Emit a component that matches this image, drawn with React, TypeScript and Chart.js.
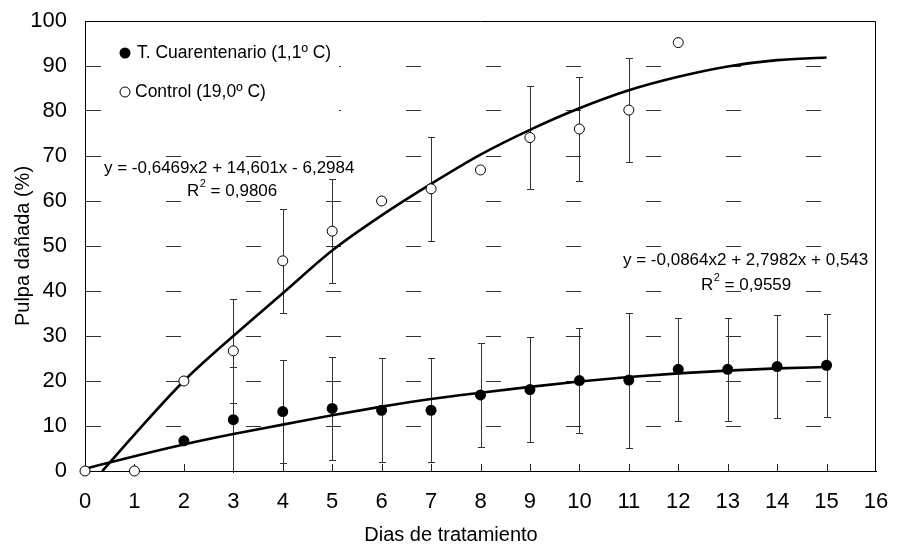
import React, { useEffect, useRef } from 'react';
import { Chart, registerables } from 'chart.js';

Chart.register(...registerables);

const FONT = 'Arial, "Liberation Sans", sans-serif';

const controlDays = [0, 1, 2, 3, 4, 5, 6, 7, 8, 9, 10, 11, 12];
const controlValues = [0, 0, 20, 26.7, 46.7, 53.3, 60, 62.7, 66.9, 74.1, 76, 80.2, 95.2];
const controlErr = [0, 0, 0, 11.5, 11.5, 11.6, 0, 11.6, 0, 11.5, 11.6, 11.6, 0];

const cuarDays = [2, 3, 4, 5, 6, 7, 8, 9, 10, 11, 12, 13, 14, 15];
const cuarValues = [6.7, 11.4, 13.2, 13.9, 13.5, 13.5, 16.9, 18.1, 20.1, 20.2, 22.6, 22.6, 23.2, 23.5];
const cuarErr = [0, 11.8, 11.5, 11.5, 11.6, 11.6, 11.6, 11.6, 11.6, 15.0, 11.4, 11.4, 11.5, 11.5];

// Trend lines
const controlTrendDays = [0.35, 1, 2, 3, 4, 5, 6, 7, 8, 9, 10, 11, 12, 13, 14, 15];
const controlTrendValues = [0, 8.1, 20, 30, 39.5, 49, 56.8, 63.8, 70.3, 75.8, 80.6, 84.6, 87.6, 89.9, 91.3, 91.9];
const cuarTrendDays = [0, 1, 2, 3, 4, 5, 6, 7, 8, 9, 10, 11, 12, 13, 14, 15];
const cuarTrendValues = [0.5, 3.3, 5.9, 8.2, 10.3, 12.4, 14.3, 16.0, 17.4, 18.7, 19.9, 20.9, 21.7, 22.3, 22.8, 23.1];

// Texts
const legendLabels = ['T. Cuarentenario (1,1º C)', 'Control (19,0º C)'];
const controlEquation = 'y = -0,6469x2 + 14,601x - 6,2984';
const controlR2 = ' = 0,9806';
const cuarEquation = 'y = -0,0864x2 + 2,7982x + 0,543';
const cuarR2 = ' = 0,9559';
const xTitle = 'Dias de tratamiento';
const yTitle = 'Pulpa dañada (%)';

const toPoints = (xs: number[], ys: number[]) => xs.map((x, i) => ({ x, y: ys[i] }));

const overlay = {
  id: 'overlay',
  beforeDatasetsDraw(chart: any) {
    const { ctx, chartArea: ca, scales } = chart;
    const xs = scales.x;
    const ys = scales.y;
    ctx.save();
    ctx.strokeStyle = '#000';
    ctx.lineWidth = 1;
    ctx.setLineDash([]);
    ctx.beginPath();
    ctx.moveTo(ca.left, Math.round(ca.top) + 0.5);
    ctx.lineTo(Math.round(ca.right) - 0.5, Math.round(ca.top) + 0.5);
    ctx.lineTo(Math.round(ca.right) - 0.5, ca.bottom);
    ctx.stroke();
    ctx.strokeStyle = '#222';
    ctx.beginPath();
    for (let d = 1; d <= 15; d++) {
      const px = Math.round(xs.getPixelForValue(d)) + 0.5;
      ctx.moveTo(px, ca.bottom);
      ctx.lineTo(px, ca.bottom - 7);
    }
    ctx.stroke();
    ctx.save();
    ctx.beginPath();
    ctx.rect(ca.left, ca.top, ca.right - ca.left, ca.bottom - ca.top + 2);
    ctx.clip();
    const drawErr = (days: number[], vals: number[], errs: number[], color: string) => {
      ctx.strokeStyle = color;
      ctx.lineWidth = 1;
      ctx.beginPath();
      days.forEach((d, i) => {
        const e = errs[i];
        if (!e) return;
        const px = Math.round(xs.getPixelForValue(d)) + 0.5;
        const top = Math.round(ys.getPixelForValue(vals[i] + e)) + 0.5;
        const bot = Math.round(ys.getPixelForValue(vals[i] - e)) + 0.5;
        ctx.moveTo(px, top);
        ctx.lineTo(px, bot);
        ctx.moveTo(px - 3.5, top);
        ctx.lineTo(px + 3.5, top);
        ctx.moveTo(px - 3.5, bot);
        ctx.lineTo(px + 3.5, bot);
      });
      ctx.stroke();
    };
    drawErr(controlDays, controlValues, controlErr, '#333');
    drawErr(cuarDays, cuarValues, cuarErr, '#333');
    ctx.restore();
    ctx.restore();
  },
  afterDatasetsDraw(chart: any) {
    const { ctx } = chart;
    ctx.save();
    ctx.fillStyle = '#fff';
    ctx.fillRect(108, 30, 231, 84);
    ctx.fillStyle = '#000';
    ctx.beginPath();
    ctx.arc(125, 53, 5.5, 0, Math.PI * 2);
    ctx.fill();
    ctx.fillStyle = '#fff';
    ctx.strokeStyle = '#000';
    ctx.lineWidth = 1;
    ctx.beginPath();
    ctx.arc(125, 92, 5, 0, Math.PI * 2);
    ctx.fill();
    ctx.stroke();
    ctx.fillStyle = '#000';
    ctx.font = `17.5px ${FONT}`;
    ctx.textAlign = 'left';
    ctx.textBaseline = 'middle';
    ctx.fillText(legendLabels[0], 137, 53);
    ctx.fillText(legendLabels[1], 135, 92);

    const drawR2 = (x: number, y: number, rest: string) => {
      ctx.font = `17px ${FONT}`;
      ctx.fillText('R', x, y);
      const w = ctx.measureText('R').width;
      ctx.font = `11px ${FONT}`;
      ctx.fillText('2', x + w + 0.5, y - 7);
      const w2 = ctx.measureText('2').width;
      ctx.font = `17px ${FONT}`;
      ctx.fillText(rest, x + w + w2 + 0.5, y);
    };
    ctx.font = `17px ${FONT}`;
    ctx.fillText(controlEquation, 104, 168);
    drawR2(187, 191, controlR2);
    ctx.font = `17px ${FONT}`;
    ctx.fillText(cuarEquation, 623, 260);
    drawR2(701, 285, cuarR2);

    ctx.font = `20px ${FONT}`;
    ctx.textAlign = 'center';
    ctx.fillText(xTitle, 451, 535);
    ctx.translate(23, 246);
    ctx.rotate(-Math.PI / 2);
    ctx.fillText(yTitle, 0, 0);
    ctx.restore();
  },
};

export default function App() {
  const ref = useRef<HTMLCanvasElement | null>(null);
  useEffect(() => {
    if (!ref.current) return;
    const chart = new Chart(ref.current, {
      type: 'scatter',
      data: {
        datasets: [
          {
            label: legendLabels[1],
            data: toPoints(controlDays, controlValues),
            pointRadius: 5,
            pointBackgroundColor: '#fff',
            pointBorderColor: '#000',
            pointBorderWidth: 1,
            showLine: false,
            clip: false as any,
          },
          {
            label: legendLabels[0],
            data: toPoints(cuarDays, cuarValues),
            pointRadius: 5.5,
            pointBackgroundColor: '#000',
            pointBorderColor: '#000',
            pointBorderWidth: 0,
            showLine: false,
            clip: false as any,
          },
          {
            label: 'trend control',
            data: toPoints(controlTrendDays, controlTrendValues),
            showLine: true,
            pointRadius: 0,
            borderColor: '#000',
            borderWidth: 2.6,
            cubicInterpolationMode: 'monotone',
          },
          {
            label: 'trend cuarentenario',
            data: toPoints(cuarTrendDays, cuarTrendValues),
            showLine: true,
            pointRadius: 0,
            borderColor: '#000',
            borderWidth: 2.6,
            cubicInterpolationMode: 'monotone',
          },
        ],
      },
      options: {
        responsive: false,
        animation: false,
        layout: { autoPadding: false, padding: { left: 0, top: 21, right: 25, bottom: 0 } },
        plugins: { legend: { display: false }, tooltip: { enabled: false } },
        scales: {
          x: {
            type: 'linear',
            min: 0,
            max: 16,
            afterFit: (s: any) => { s.height = 75; s.paddingLeft = 0; s.paddingRight = 0; },
            ticks: { stepSize: 1, color: '#000', font: { family: FONT, size: 22 }, padding: 18, maxRotation: 0 },
            grid: { display: false, drawTicks: false },
            border: { display: true, color: '#000', width: 1 },
          },
          y: {
            type: 'linear',
            min: 0,
            max: 100,
            afterFit: (s: any) => { s.width = 85; s.paddingTop = 0; s.paddingBottom = 0; },
            ticks: { stepSize: 10, color: '#000', font: { family: FONT, size: 22 }, padding: 18 },
            grid: { color: '#333', lineWidth: 1, drawTicks: false },
            border: { display: true, color: '#000', width: 1, dash: [15, 65] },
          },
        },
      },
      plugins: [overlay],
    });
    return () => chart.destroy();
  }, []);
  return (
    <div style={{ position: 'absolute', left: 0, top: 0, width: 901, height: 546, background: '#fff' }}>
      <canvas ref={ref} width={901} height={546} style={{ display: 'block' }} />
    </div>
  );
}
